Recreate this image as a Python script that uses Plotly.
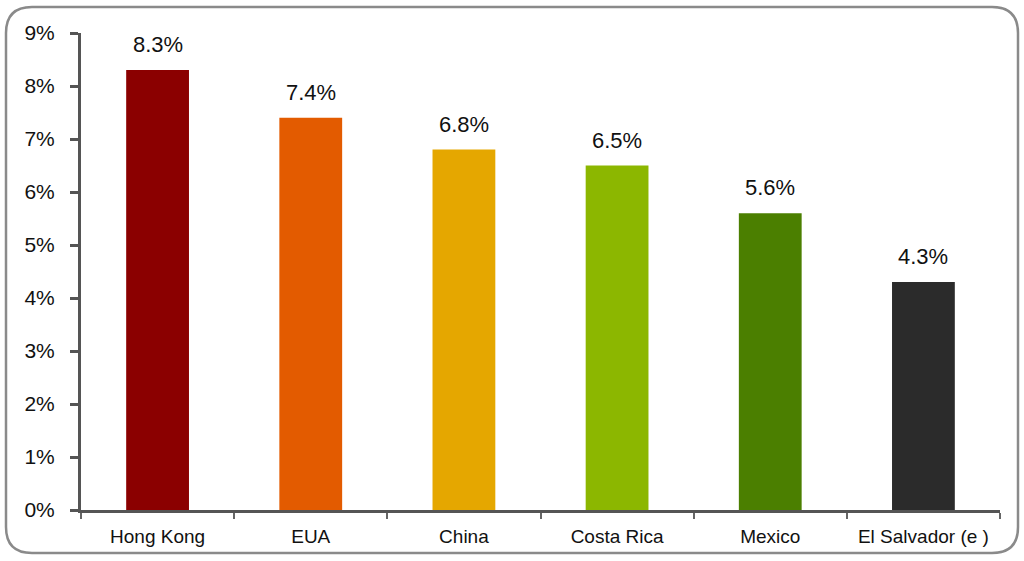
import plotly.graph_objects as go

countries = ["Hong Kong", "EUA", "China", "Costa Rica", "Mexico", "El Salvador (e )"]
rates = [8.3, 7.4, 6.8, 6.5, 5.6, 4.3]
bar_colors = ["#8B0000", "#E35B00", "#E5A700", "#8CB700", "#4B7F00", "#2B2B2B"]
y_ticks = [0, 1, 2, 3, 4, 5, 6, 7, 8, 9]
y_tick_text = [f"{v}%" for v in y_ticks]

FONT = "Liberation Sans, Arial, sans-serif"

fig = go.Figure(
    go.Bar(
        x=countries,
        y=rates,
        marker=dict(color=bar_colors, line=dict(width=0)),
        width=0.41,
    )
)

# value labels floating above each bar
for c, v in zip(countries, rates):
    fig.add_annotation(
        x=c, y=v, text=f"{v}%", showarrow=False,
        yanchor="bottom", yshift=11,
        font=dict(family=FONT, size=22, color="#111111"),
    )

# plot area in pixels: x 81..1000, y 33..510
L, R, T, B = 81, 24, 33, 51
W, H = 1024 - L - R, 561 - T - B


def px(xp):
    return (xp - L) / W


def py(yp):
    return (561 - B - yp) / H


# rounded outer frame
x0, x1, y0, y1 = px(6), px(1018), py(553), py(7)
rx, ry = 26 / W, 26 / H
frame = (
    f"M {x0 + rx},{y1} L {x1 - rx},{y1} Q {x1},{y1} {x1},{y1 - ry} "
    f"L {x1},{y0 + ry} Q {x1},{y0} {x1 - rx},{y0} "
    f"L {x0 + rx},{y0} Q {x0},{y0} {x0},{y0 + ry} "
    f"L {x0},{y1 - ry} Q {x0},{y1} {x0 + rx},{y1} Z"
)

fig.update_layout(
    width=1024,
    height=561,
    margin=dict(l=L, r=R, t=T, b=B),
    paper_bgcolor="white",
    plot_bgcolor="white",
    showlegend=False,
    font=dict(family=FONT, color="#111111"),
    shapes=[
        dict(type="path", xref="paper", yref="paper", path=frame,
             line=dict(color="#8A8A8A", width=2.5), layer="below"),
    ],
)

fig.update_xaxes(
    showline=True,
    linecolor="#555555",
    linewidth=3,
    ticks="outside",
    tickson="boundaries",
    ticklen=6,
    tickwidth=2,
    tickcolor="#666666",
    ticklabelstandoff=7,
    tickfont=dict(family=FONT, size=19, color="#111111"),
    showgrid=False,
)
fig.update_yaxes(
    range=[0, 9],
    tickvals=y_ticks,
    ticktext=y_tick_text,
    showline=True,
    linecolor="#555555",
    linewidth=3,
    ticks="outside",
    ticklen=8,
    tickwidth=3,
    tickcolor="#555555",
    ticklabelstandoff=11,
    tickfont=dict(family=FONT, size=21, color="#111111"),
    showgrid=False,
    zeroline=False,
)

fig.write_html("out.html")
